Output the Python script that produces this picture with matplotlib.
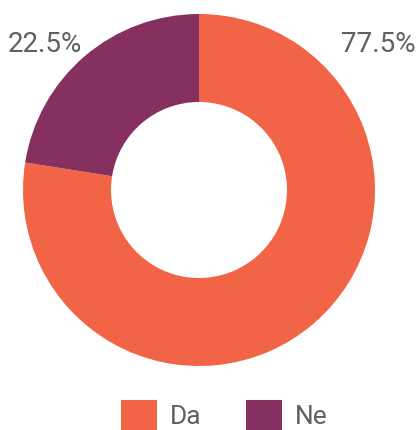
import matplotlib
matplotlib.use('Agg')
import matplotlib.pyplot as plt
from matplotlib.patches import Patch

labels = ['Da', 'Ne']
values = [77.5, 22.5]
colors = ['#F26446', '#86305F']

plt.rcParams['font.family'] = ['Roboto', 'DejaVu Sans']

fig = plt.figure(figsize=(4.17, 4.30), dpi=100)
ax = fig.add_axes([0, 0, 1, 1])

ax.pie(values, colors=colors, startangle=90, counterclock=False,
       radius=176, center=(199, 240), frame=True,
       wedgeprops=dict(width=88, linewidth=0))
ax.set_xlim(0, 417)
ax.set_ylim(0, 430)
ax.axis('off')

ax.text(45, 385, '%.1f%%' % values[1], fontsize=20, color='#606060',
        ha='center', va='center')
ax.text(378, 385, '%.1f%%' % values[0], fontsize=20, color='#606060',
        ha='center', va='center')

handles = [Patch(facecolor=c, label=l) for c, l in zip(colors, labels)]
fig.legend(handles=handles, loc='center', ncol=2, frameon=False,
           fontsize=19, labelcolor='#606060', handlelength=1.35,
           handleheight=1.35, handletextpad=0.5, columnspacing=1.7,
           bbox_to_anchor=(0.538, 15 / 430))

fig.savefig('out.png', dpi=100)
